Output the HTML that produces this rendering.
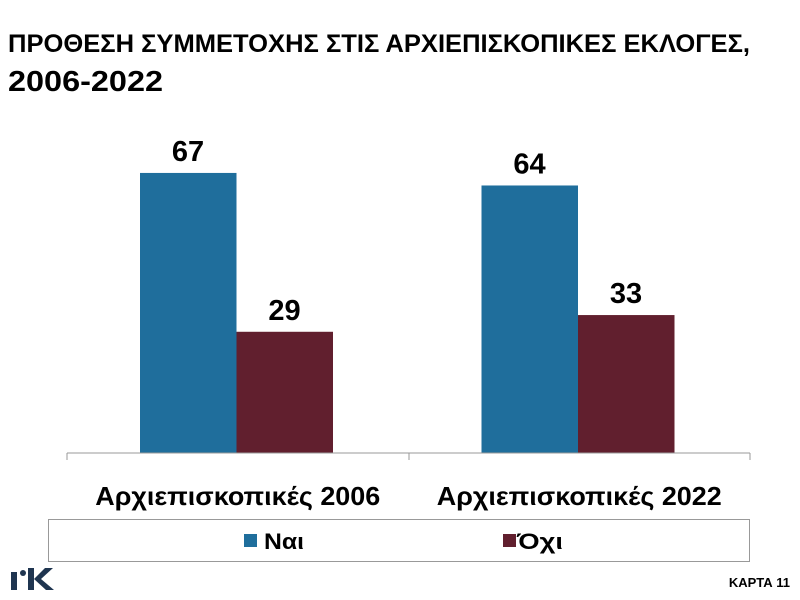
<!DOCTYPE html>
<html><head><meta charset="utf-8"><style>
body{margin:0;background:#fff;font-family:"Liberation Sans","DejaVu Sans",sans-serif;}
#c{position:relative;width:800px;height:600px;overflow:hidden;}
</style></head><body>
<div id="c">
<svg width="800" height="600" xmlns="http://www.w3.org/2000/svg" id="svg">
<text x="8" y="52" font-size="25" font-weight="bold" fill="#000" textLength="742" lengthAdjust="spacingAndGlyphs">ΠΡΟΘΕΣΗ ΣΥΜΜΕΤΟΧΗΣ ΣΤΙΣ ΑΡΧΙΕΠΙΣΚΟΠΙΚΕΣ ΕΚΛΟΓΕΣ,</text>
<text x="8" y="91" font-size="29" font-weight="bold" fill="#000" textLength="155" lengthAdjust="spacingAndGlyphs">2006-2022</text>
<g id="bars"></g>
<line x1="67" y1="453" x2="750" y2="453" stroke="#999" stroke-width="1"/>
<line x1="67" y1="453" x2="67" y2="460" stroke="#999"/>
<line x1="409" y1="453" x2="409" y2="460" stroke="#999"/>
<line x1="750" y1="453" x2="750" y2="460" stroke="#999"/>
<rect x="48.5" y="519.5" width="701" height="42" fill="#fff" stroke="#999"/>
<rect x="244" y="534" width="13" height="13" fill="#1f6e9c"/>
<text x="264" y="549" font-size="22" font-weight="bold" fill="#000" textLength="40" lengthAdjust="spacingAndGlyphs">Ναι</text>
<rect x="503" y="534" width="13" height="13" fill="#611f2e"/>
<text x="517" y="549" font-size="22" font-weight="bold" fill="#000" textLength="46" lengthAdjust="spacingAndGlyphs">Όχι</text>
<g>
<rect x="11" y="572" width="6" height="18" fill="#1f3550"/>
<circle cx="23" cy="573" r="3" fill="#1f3550"/>
<rect x="28" y="568" width="6" height="22" fill="#1f3550"/>
<polygon points="34,579 45,568 53,568 41,579 54,590 46,590" fill="#1f3550"/>
</g>
<text x="790" y="587" font-size="13" font-weight="bold" fill="#000" text-anchor="end">ΚΑΡΤΑ 11</text>
</svg>
</div>
<script>
const categories=["Αρχιεπισκοπικές 2006","Αρχιεπισκοπικές 2022"];
const yesValues=[67,64];
const noValues=[29,33];
const svg=document.getElementById('bars');
const NS="http://www.w3.org/2000/svg";
const baseY=453, pxPerUnit=4.18, groupW=341.5, x0=67;
function yScale(v){return baseY-v*pxPerUnit;}
function groupX(i){return x0+i*groupW;}
function mk(tag,attrs){const e=document.createElementNS(NS,tag);for(const k in attrs)e.setAttribute(k,attrs[k]);svg.appendChild(e);return e;}
categories.forEach((cat,i)=>{
  const gx=groupX(i);
  [[yesValues[i],"#1f6e9c",73,'bar-nai'],[noValues[i],"#611f2e",169.5,'bar-oxi']].forEach(([v,col,off,nm])=>{
    const y=yScale(v);
    const r=mk('rect',{x:gx+off,y:y,width:96.5,height:baseY-y,fill:col});
    
    
    const t=mk('text',{x:gx+off+48,y:y-12,'font-size':29,'font-weight':'bold','text-anchor':'middle',fill:'#000'});
    t.textContent=v;
    
    
  });
  const l=mk('text',{x:gx+groupW/2,y:505,'font-size':26,'font-weight':'bold','text-anchor':'middle',fill:'#000',textLength:285,lengthAdjust:'spacingAndGlyphs'});
  l.textContent=cat;
  
  
});
</script>
</body></html>
